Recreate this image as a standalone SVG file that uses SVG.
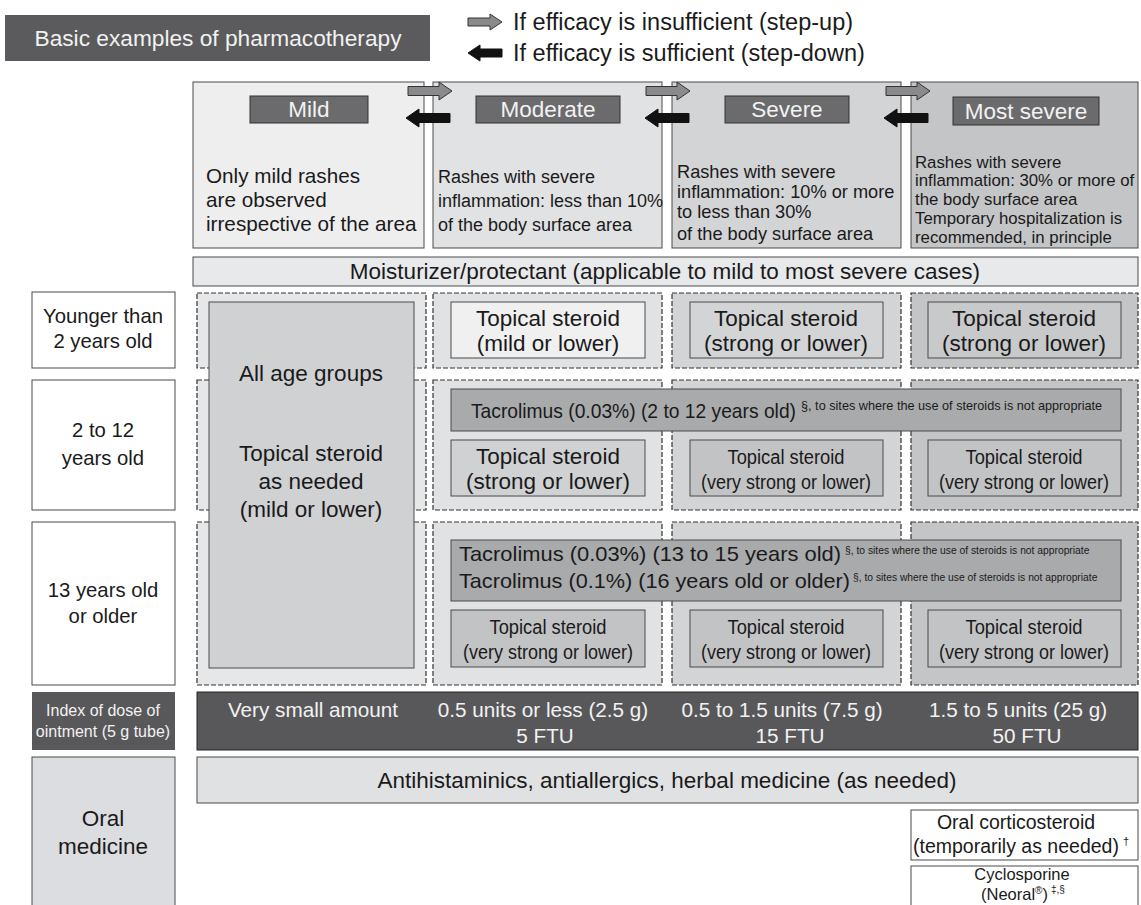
<svg xmlns="http://www.w3.org/2000/svg" width="1141" height="905" viewBox="0 0 1141 905">
<style>
text{font-family:"Liberation Sans",Arial,sans-serif;fill:#1a1a1a}
.w{fill:#f2f2f2}
.c{text-anchor:middle}
.big{font-size:22.5px}
.vs{font-size:20px}
.age{font-size:20.3px}
.box{stroke:#4a4a4a;stroke-width:1}
.dash{stroke:#333;stroke-width:1.2;stroke-dasharray:5,2}
.lab{fill:#6b6b6d;stroke:#333;stroke-width:1}
</style>
<defs>
<g id="up"><path d="M0,-4 H22 V-8 L34,0 L22,8 V4 H0 Z" fill="#8a8a8c" stroke="#333" stroke-width="1"/></g>
<g id="down"><path d="M34,-4 H12 V-8 L0,0 L12,8 V4 H34 Z" fill="#111" stroke="#111" stroke-width="1"/></g>
<g id="up2"><path d="M0,-4.5 H31 V-9 L44,0 L31,9 V4.5 H0 Z" fill="#8a8a8c" stroke="#333" stroke-width="1"/></g>
<g id="down2"><path d="M44,-4.5 H13 V-9 L0,0 L13,9 V4.5 H44 Z" fill="#111" stroke="#111" stroke-width="1"/></g>
</defs>

<g id="title">
<rect x="5" y="15" width="425" height="46" fill="#5b5b5d"/>
<text x="218" y="46" class="c w" style="font-size:22.7px">Basic examples of pharmacotherapy</text>
</g>

<g id="legend">
<use href="#up" x="468" y="22"/>
<text x="513" y="30" style="font-size:23.5px">If efficacy is insufficient (step-up)</text>
<use href="#down" x="468" y="53"/>
<text x="513" y="61" style="font-size:23.5px">If efficacy is sufficient (step-down)</text>
</g>

<g id="sev-mild">
<rect x="193" y="82" width="231" height="166" fill="#eeeeee" class="box"/>
<rect x="250" y="96" width="118" height="27" class="lab"/>
<text x="309" y="117" class="big c w">Mild</text>
<text x="206" y="183" style="font-size:20.7px">Only mild rashes</text>
<text x="206" y="207" style="font-size:20.7px">are observed</text>
<text x="206" y="231" style="font-size:20.7px">irrespective of the area</text>
</g>
<g id="sev-moderate">
<rect x="433" y="82" width="229" height="166" fill="#e1e2e4" class="box"/>
<rect x="476" y="96" width="144" height="27" class="lab"/>
<text x="548" y="117" class="big c w">Moderate</text>
<text x="438" y="183" style="font-size:18px">Rashes with severe</text>
<text x="438" y="207" style="font-size:18px">inflammation: less than 10%</text>
<text x="438" y="231" style="font-size:18px">of the body surface area</text>
</g>
<g id="sev-severe">
<rect x="672" y="82" width="229" height="166" fill="#d3d4d6" class="box"/>
<rect x="725" y="96" width="124" height="27" class="lab"/>
<text x="787" y="117" class="big c w">Severe</text>
<text x="677" y="178" style="font-size:18.2px">Rashes with severe</text>
<text x="677" y="198" style="font-size:18.2px">inflammation: 10% or more</text>
<text x="677" y="218" style="font-size:18.2px">to less than 30%</text>
<text x="677" y="240" style="font-size:18.2px">of the body surface area</text>
</g>
<g id="sev-most">
<rect x="911" y="82" width="227" height="166" fill="#c4c5c7" class="box"/>
<rect x="953" y="97" width="146" height="28" class="lab"/>
<text x="1026" y="119" class="big c w">Most severe</text>
<text x="915" y="168" style="font-size:16.8px">Rashes with severe</text>
<text x="915" y="186" style="font-size:16.8px">inflammation: 30% or more of</text>
<text x="915" y="205" style="font-size:16.8px">the body surface area</text>
<text x="915" y="224" style="font-size:16.8px">Temporary hospitalization is</text>
<text x="915" y="243" style="font-size:16.8px"> recommended, in principle</text>
</g>

<g id="moisturizer">
<rect x="193" y="257" width="945" height="29" fill="#e8e9eb" class="box"/>
<text x="665" y="279" class="big c">Moisturizer/protectant (applicable to mild to most severe cases)</text>
</g>

<g id="age1">
<rect x="32" y="292" width="143" height="76" fill="#fff" class="box"/>
<text x="103" y="323" class="age c">Younger than</text>
<text x="103" y="348" class="age c">2 years old</text>
</g>
<g id="age2">
<rect x="32" y="380" width="143" height="130" fill="#fff" class="box"/>
<text x="103" y="437" class="age c">2 to 12</text>
<text x="103" y="465" class="age c">years old</text>
</g>
<g id="age3">
<rect x="32" y="522" width="143" height="163" fill="#fff" class="box"/>
<text x="103" y="597" class="age c">13 years old</text>
<text x="103" y="623" class="age c">or older</text>
</g>
<g id="dose-label">
<rect x="32" y="692" width="143" height="58" fill="#58585a"/>
<text x="103" y="716" class="c w" style="font-size:16px">Index of dose of</text>
<text x="103" y="737" class="c w" style="font-size:16px">ointment (5 g tube)</text>
</g>
<g id="oral-label">
<rect x="32" y="757" width="143" height="160" fill="#dcdde0" class="box"/>
<text x="103" y="826" class="big c">Oral</text>
<text x="103" y="854" class="big c">medicine</text>
</g>

<g id="row-cells">
<rect x="197" y="293" width="229" height="75" fill="#e6e7e9" class="dash"/>
<rect x="433" y="293" width="229" height="75" fill="#e1e2e4" class="dash"/>
<rect x="672" y="293" width="229" height="75" fill="#d3d4d6" class="dash"/>
<rect x="911" y="293" width="227" height="75" fill="#c4c5c7" class="dash"/>
<rect x="197" y="380" width="229" height="130" fill="#e6e7e9" class="dash"/>
<rect x="433" y="380" width="229" height="130" fill="#e1e2e4" class="dash"/>
<rect x="672" y="380" width="229" height="130" fill="#d3d4d6" class="dash"/>
<rect x="911" y="380" width="227" height="130" fill="#c4c5c7" class="dash"/>
<rect x="197" y="522" width="229" height="163" fill="#e6e7e9" class="dash"/>
<rect x="433" y="522" width="229" height="163" fill="#e1e2e4" class="dash"/>
<rect x="672" y="522" width="229" height="163" fill="#d3d4d6" class="dash"/>
<rect x="911" y="522" width="227" height="163" fill="#c4c5c7" class="dash"/>
</g>

<g id="all-age">
<rect x="209" y="302" width="205" height="366" fill="#d0d1d3" class="box"/>
<text x="311" y="381" class="big c">All age groups</text>
<text x="311" y="461" class="big c">Topical steroid</text>
<text x="311" y="489" class="big c">as needed</text>
<text x="311" y="517" class="big c">(mild or lower)</text>
</g>

<g id="a-mod">
<rect x="451" y="302" width="194" height="56" fill="#f0f0f1" class="box"/>
<text x="548" y="326" class="big c">Topical steroid</text>
<text x="548" y="351" class="big c">(mild or lower)</text>
</g>
<g id="a-sev">
<rect x="690" y="302" width="193" height="56" fill="#d3d4d6" class="box"/>
<text x="786" y="326" class="big c">Topical steroid</text>
<text x="786" y="351" class="big c">(strong or lower)</text>
</g>
<g id="a-most">
<rect x="928" y="302" width="193" height="56" fill="#c8c9cb" class="box"/>
<text x="1024" y="326" class="big c">Topical steroid</text>
<text x="1024" y="351" class="big c">(strong or lower)</text>
</g>

<g id="b-tac">
<rect x="451" y="389" width="670" height="42" fill="#a9aaac" class="box"/>
<text x="471" y="418" style="font-size:21px"><tspan textLength="325" lengthAdjust="spacingAndGlyphs">Tacrolimus (0.03%) (2 to 12 years old)</tspan><tspan x="801" dy="-8" style="font-size:12.7px">§, to sites where the use of steroids is not appropriate</tspan></text>
</g>
<g id="b-mod">
<rect x="451" y="440" width="194" height="56" fill="#d0d1d3" class="box"/>
<text x="548" y="464" class="big c">Topical steroid</text>
<text x="548" y="489" class="big c">(strong or lower)</text>
</g>
<g id="b-sev">
<rect x="690" y="440" width="193" height="56" fill="#c2c3c5" class="box"/>
<text x="786" y="464" class="vs c" textLength="117" lengthAdjust="spacingAndGlyphs">Topical steroid</text>
<text x="786" y="489" class="vs c" textLength="170" lengthAdjust="spacingAndGlyphs">(very strong or lower)</text>
</g>
<g id="b-most">
<rect x="928" y="440" width="193" height="56" fill="#c2c3c5" class="box"/>
<text x="1024" y="464" class="vs c" textLength="117" lengthAdjust="spacingAndGlyphs">Topical steroid</text>
<text x="1024" y="489" class="vs c" textLength="170" lengthAdjust="spacingAndGlyphs">(very strong or lower)</text>
</g>

<g id="c-tac">
<rect x="451" y="540" width="670" height="61" fill="#a9aaac" class="box"/>
<text x="459" y="561" style="font-size:21px"><tspan textLength="382" lengthAdjust="spacingAndGlyphs">Tacrolimus (0.03%) (13 to 15 years old)</tspan><tspan x="845" dy="-7" style="font-size:10.3px">§, to sites where the use of steroids is not appropriate</tspan></text>
<text x="459" y="588" style="font-size:21px"><tspan textLength="391" lengthAdjust="spacingAndGlyphs">Tacrolimus (0.1%) (16 years old or older)</tspan><tspan x="853" dy="-7" style="font-size:10.3px">§, to sites where the use of steroids is not appropriate</tspan></text>
</g>
<g id="c-mod">
<rect x="451" y="610" width="194" height="57" fill="#c2c3c5" class="box"/>
<text x="548" y="634" class="vs c" textLength="117" lengthAdjust="spacingAndGlyphs">Topical steroid</text>
<text x="548" y="659" class="vs c" textLength="170" lengthAdjust="spacingAndGlyphs">(very strong or lower)</text>
</g>
<g id="c-sev">
<rect x="690" y="610" width="193" height="57" fill="#c2c3c5" class="box"/>
<text x="786" y="634" class="vs c" textLength="117" lengthAdjust="spacingAndGlyphs">Topical steroid</text>
<text x="786" y="659" class="vs c" textLength="170" lengthAdjust="spacingAndGlyphs">(very strong or lower)</text>
</g>
<g id="c-most">
<rect x="928" y="610" width="193" height="57" fill="#c2c3c5" class="box"/>
<text x="1024" y="634" class="vs c" textLength="117" lengthAdjust="spacingAndGlyphs">Topical steroid</text>
<text x="1024" y="659" class="vs c" textLength="170" lengthAdjust="spacingAndGlyphs">(very strong or lower)</text>
</g>

<g id="dose">
<rect x="197" y="692" width="941" height="58" fill="#58585a" stroke="#222" stroke-width="1"/>
<text x="313" y="717" class="c w" style="font-size:20.7px">Very small amount</text>
<text x="543" y="717" class="c w" style="font-size:20.7px">0.5 units or less (2.5 g)</text>
<text x="545" y="743" class="c w" style="font-size:20.7px">5 FTU</text>
<text x="782" y="717" class="c w" style="font-size:20.7px">0.5 to 1.5 units (7.5 g)</text>
<text x="790" y="743" class="c w" style="font-size:20.7px">15 FTU</text>
<text x="1018" y="717" class="c w" style="font-size:20.7px">1.5 to 5 units (25 g)</text>
<text x="1027" y="743" class="c w" style="font-size:20.7px">50 FTU</text>
</g>

<g id="antihist">
<rect x="197" y="757" width="941" height="46" fill="#e0e1e3" class="box"/>
<text x="667" y="788" class="big c">Antihistaminics, antiallergics, herbal medicine (as needed)</text>
</g>

<g id="oral-cort">
<rect x="911" y="810" width="227" height="50" fill="#fff" class="box"/>
<text x="1016" y="829" class="c" style="font-size:19.5px">Oral corticosteroid</text>
<text x="913" y="853" style="font-size:19.5px">(temporarily as needed)<tspan dx="4" dy="-8" style="font-size:11px">†</tspan></text>
</g>
<g id="cyclo">
<rect x="911" y="866" width="227" height="45" fill="#fff" class="box"/>
<text x="1022" y="880" class="c" style="font-size:16.5px">Cyclosporine</text>
<text x="981" y="900" style="font-size:16.5px">(Neoral<tspan style="font-size:10px" dy="-6">®</tspan><tspan dy="6">)</tspan><tspan dx="3" dy="-7" style="font-size:10px">‡,§</tspan></text>
</g>

<g id="connectors">
<use href="#up2" x="408" y="91"/>
<use href="#down2" x="406" y="118"/>
<use href="#up2" x="646" y="91"/>
<use href="#down2" x="645" y="118"/>
<use href="#up2" x="886" y="91"/>
<use href="#down2" x="884" y="118"/>
</g>
</svg>
